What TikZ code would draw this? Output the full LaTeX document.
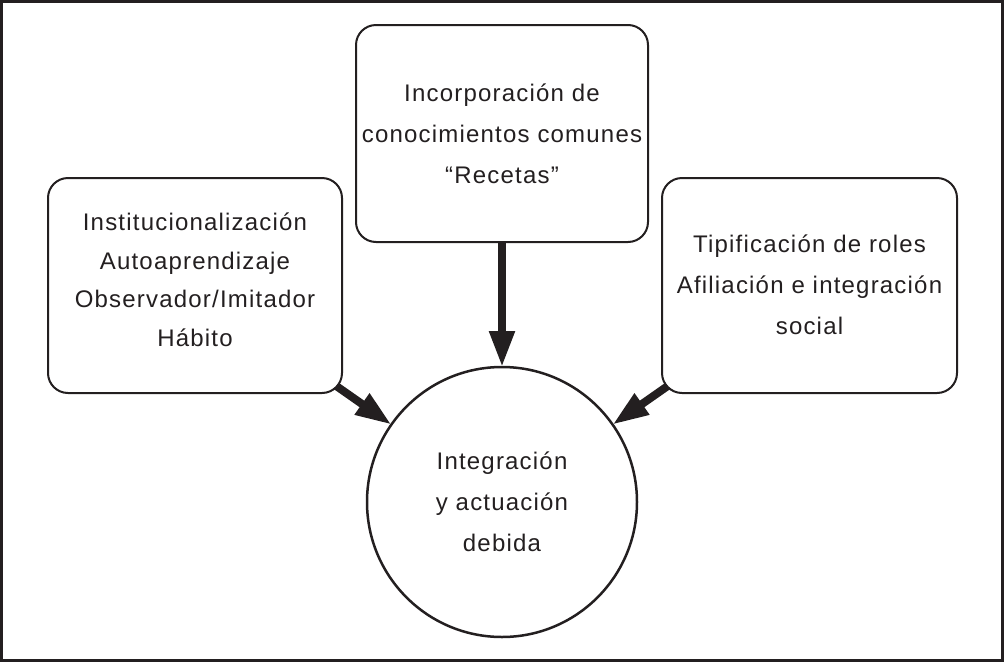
\documentclass[tikz,border=0pt]{standalone}
\usepackage{fontspec}
\setmainfont{Liberation Sans}[LetterSpace=5]
\usetikzlibrary{arrows.meta,calc,backgrounds}
\definecolor{ink}{HTML}{231F20}
\begin{document}
\begin{tikzpicture}[x=1pt,y=-1pt,
  box/.style={draw=ink,line width=2pt,rounded corners=20pt,fill=white,inner sep=0pt,outer sep=0pt,align=center,text=ink},
  ring/.style={circle,draw=ink,line width=2.5pt,fill=white,minimum size=270pt,inner sep=0pt,outer sep=0pt,align=center,text=ink},
  arr/.style={draw=ink,line width=8pt,-{Triangle[length=36pt,width=24pt]}},
  txt/.style={font=\fontsize{24}{41}\selectfont},
  txtl/.style={font=\fontsize{24}{38.5}\selectfont}]
\useasboundingbox (0,0) rectangle (1005,662);
\draw[ink,line width=3pt] (1.5,1.5) rectangle (1002,660);

\node[box,minimum width=292pt,minimum height=217pt] (tb) at (502,133.5) {};
\node[txt,text=ink,align=center] (tbt) at (502,134) {Incorporación de\\conocimientos comunes\\“Recetas”};
\node[box,minimum width=294pt,minimum height=215pt] (lb) at (195,285.5) {};
\node[txtl,text=ink,align=center] (lbt) at (195,280) {Institucionalización\\Autoaprendizaje\\Observador/Imitador\\Hábito};
\node[box,minimum width=295pt,minimum height=215pt] (rb) at (809.5,285.5) {};
\node[txt,text=ink,align=center] (rbt) at (809.5,285) {Tipificación de roles\\Afiliación e integración\\social};
\node[ring] (c) at (502,502) {};
\node[txt,text=ink,align=center] (ct) at (502,502) {Integración\\y actuación\\debida};

\coordinate (lbc) at ($(lb.south east)+(-10,-10)$);
\coordinate (rbc) at ($(rb.south west)+(10,-10)$);
\coordinate (tbc) at ($(tb.south)+(0,-8)$);

\begin{scope}[on background layer]
  \draw[arr] (tbc) -- (c);
  \draw[arr] (lbc) -- (c);
  \draw[arr] (rbc) -- (c);
\end{scope}
\end{tikzpicture}
\end{document}
